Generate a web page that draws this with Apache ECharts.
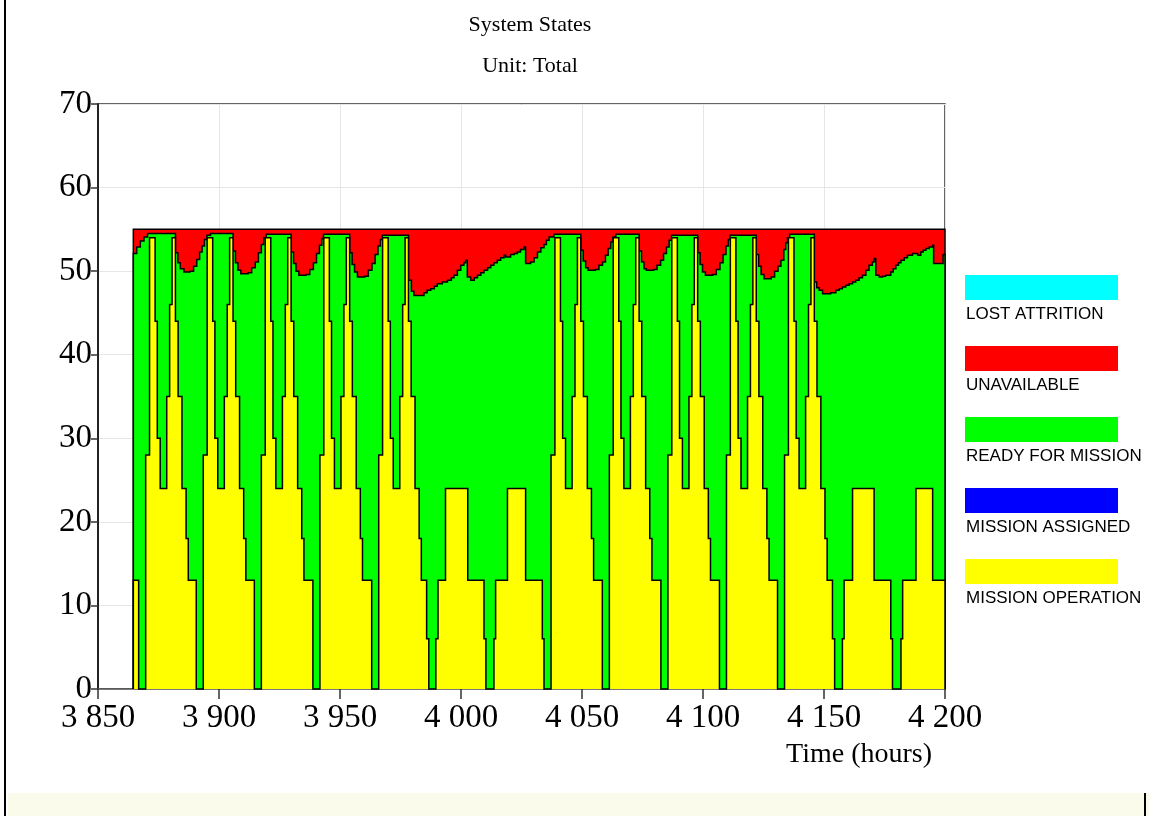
<!DOCTYPE html>
<html>
<head>
<meta charset="utf-8">
<script src="https://cdn.jsdelivr.net/npm/echarts@6/dist/echarts.min.js"></script>
<style>
  html, body { margin: 0; padding: 0; background: #fff; }
  #chart { width: 1149px; height: 816px; }
</style>
</head>
<body>
<div id="chart"></div>
<script>
// step data: [time (hours), level] — each level holds until the next point
var missionOperation = [
  [3864.6,13],
  [3866.8,0],[3869.7,28],[3871.3,54],[3873.6,44],[3874.5,30],[3875.7,24],[3878.4,35],[3879.6,46],[3880.6,54],[3882.0,44],[3883.1,35],[3884.7,24],[3886.4,18],[3887.3,13],
  [3890.6,0],[3893.5,28],[3895.1,54],[3897.4,44],[3898.3,30],[3899.5,24],[3902.2,35],[3903.4,46],[3904.4,54],[3905.8,44],[3906.9,35],[3908.5,24],[3910.2,18],[3911.1,13],
  [3914.6,0],[3917.5,28],[3919.1,54],[3921.4,44],[3922.3,30],[3923.5,24],[3926.2,35],[3927.4,46],[3928.4,54],[3929.8,44],[3930.9,35],[3932.5,24],[3934.2,18],[3935.1,13],
  [3938.8,0],[3941.7,28],[3943.3,54],[3945.6,44],[3946.5,30],[3947.7,24],[3950.4,35],[3951.6,46],[3952.6,54],[3954.0,44],[3955.1,35],[3956.7,24],[3958.4,18],[3959.3,13],
  [3963.1,0],[3966.0,28],[3967.6,54],[3969.9,44],[3970.8,30],[3972.0,24],[3974.7,35],[3975.9,46],[3976.9,54],[3978.3,44],[3979.4,35],[3981.0,24],[3982.7,18],[3983.6,13],[3985.8,6],
  [3986.7,0],[3989.6,6],[3990.5,13],[3993.6,24],[4002.8,13],[4009.5,6],
  [4010.3,0],[4013.6,6],[4014.3,13],[4019.2,24],[4026.7,13],[4033.6,6],
  [4034.3,0],[4037.2,28],[4038.8,54],[4041.1,44],[4042.0,30],[4043.2,24],[4045.9,35],[4047.1,46],[4048.1,54],[4049.5,44],[4050.6,35],[4052.2,24],[4053.9,18],[4054.8,13],
  [4058.4,0],[4061.3,28],[4062.9,54],[4065.2,44],[4066.1,30],[4067.3,24],[4070.0,35],[4071.2,46],[4072.2,54],[4073.6,44],[4074.7,35],[4076.3,24],[4078.0,18],[4078.9,13],
  [4082.6,0],[4085.5,28],[4087.1,54],[4089.4,44],[4090.3,30],[4091.5,24],[4094.2,35],[4095.4,46],[4096.4,54],[4097.8,44],[4098.9,35],[4100.5,24],[4102.2,18],[4103.1,13],
  [4106.8,0],[4109.7,28],[4111.3,54],[4113.6,44],[4114.5,30],[4115.7,24],[4118.4,35],[4119.6,46],[4120.6,54],[4122.0,44],[4123.1,35],[4124.7,24],[4126.4,18],[4127.3,13],
  [4130.8,0],[4133.7,28],[4135.3,54],[4137.6,44],[4138.5,30],[4139.7,24],[4142.4,35],[4143.6,46],[4144.6,54],[4146.0,44],[4147.1,35],[4148.7,24],[4150.4,18],[4151.3,13],[4153.5,6],
  [4154.4,0],[4157.6,6],[4158.3,13],[4161.8,24],[4170.7,13],[4177.6,6],
  [4178.3,0],[4181.8,6],[4182.5,13],[4188.0,24],[4194.9,13],[4200,13]
];

// top of "ready for mission" band (operation + ready); above it is unavailable
var readyTop = [
  [3864.6,52.1],[3866.0,52.9],[3867.5,53.6],[3869.0,54.1],[3870.5,54.5],
  [3882.0,52.2],[3883.0,51.0],[3884.0,50.3],[3885.5,49.9],[3888.0,50.0],[3889.5,50.6],[3890.8,51.4],[3892.0,52.3],[3893.0,53.0],[3894.0,53.8],[3895.0,54.3],[3896.5,54.5],
  [3905.8,52.4],[3906.8,51.0],[3907.8,50.1],[3909.0,49.7],[3912.0,49.8],[3913.5,50.4],[3915.0,51.1],[3916.3,52.2],[3917.5,53.2],[3918.5,54.0],[3919.5,54.4],
  [3929.8,52.3],[3930.8,50.9],[3931.8,50.0],[3933.0,49.5],[3936.0,49.6],[3937.5,50.2],[3939.0,51.0],[3940.3,52.1],[3941.5,53.1],[3942.5,53.9],[3943.2,54.4],
  [3954.0,52.2],[3955.0,50.8],[3956.0,49.9],[3957.2,49.3],[3960.2,49.4],[3961.7,50.1],[3963.2,50.9],[3964.5,52.0],[3965.7,53.0],[3966.7,53.8],[3967.5,54.3],
  [3978.3,48.9],[3979.5,47.6],[3980.5,47.1],[3984.7,47.4],[3986.0,47.7],[3987.5,47.9],[3989.0,48.2],[3990.2,48.5],[3992.3,48.7],[3994.4,48.9],[3996.0,49.2],[3997.1,49.5],
  [3998.5,50.1],[3999.9,50.7],[4001.2,51.0],[4001.9,51.3],[4002.6,49.3],[4004.0,48.9],[4005.5,49.2],[4006.8,49.5],[4008.2,49.8],[4009.5,50.1],[4011.0,50.4],[4012.3,50.7],
  [4013.6,51.0],[4015.0,51.3],[4016.4,51.6],[4017.8,51.9],[4018.5,51.7],[4020.5,52.0],[4022.0,52.1],[4023.3,52.3],[4024.6,52.6],[4026.0,52.9],[4026.7,50.9],[4028.8,51.1],
  [4030.2,51.6],[4031.6,52.3],[4033.0,52.8],[4034.3,53.2],[4035.3,53.7],[4036.4,54.1],[4038.4,54.4],
  [4049.5,52.5],[4050.5,51.2],[4051.5,50.4],[4052.5,50.1],[4055.5,50.2],[4057.0,50.7],[4058.5,51.1],[4059.7,51.9],[4060.8,52.7],[4061.9,53.5],[4062.8,54.1],[4064.0,54.4],
  [4073.6,52.4],[4074.6,51.1],[4075.6,50.3],[4076.6,50.1],[4079.6,50.2],[4081.0,50.7],[4082.5,51.3],[4083.7,52.1],[4084.9,52.9],[4086.0,53.7],[4087.0,54.3],
  [4097.8,52.2],[4098.8,50.8],[4099.8,49.9],[4101.0,49.5],[4104.0,49.6],[4105.5,50.2],[4107.0,51.0],[4108.3,52.0],[4109.5,53.0],[4110.5,53.8],[4111.2,54.3],
  [4122.0,52.0],[4123.0,50.6],[4124.0,49.6],[4125.2,49.1],[4128.2,49.3],[4129.6,50.0],[4131.0,50.6],[4132.2,51.3],[4133.4,52.6],[4134.2,53.4],[4134.9,54.0],[4135.8,54.4],
  [4146.0,48.7],[4147.0,48.0],[4148.0,47.7],[4149.4,47.3],[4152.8,47.4],[4154.9,47.7],[4156.3,47.9],[4157.6,48.1],[4159.0,48.3],[4160.4,48.5],[4161.8,48.7],[4163.1,48.9],
  [4164.5,49.2],[4165.9,49.5],[4167.3,50.1],[4168.6,50.7],[4170.0,51.1],[4170.7,51.5],[4171.4,49.5],[4172.8,49.3],[4174.2,49.4],[4175.5,49.5],[4177.6,49.9],[4178.6,50.3],
  [4179.7,50.7],[4180.8,51.0],[4181.8,51.3],[4183.2,51.6],[4184.5,51.9],[4186.6,52.1],[4188.7,51.9],[4190.0,52.3],[4191.0,52.5],[4192.1,52.7],[4193.5,52.9],[4194.9,53.1],
  [4195.3,50.9],[4199.2,52.0],[4200,52.0]
];

// whole fleet (top of unavailable band)
var totalTop = [[3864.6,55],[4200,55]];

var legendNames = ['LOST ATTRITION','UNAVAILABLE','READY FOR MISSION','MISSION ASSIGNED','MISSION OPERATION'];
var legendColors = ['#00ffff','#ff0000','#00ff00','#0000ff','#ffff00'];

var serif = "'Liberation Serif', 'Times New Roman', serif";

function thousands(v) {
    return String(v).replace(/\B(?=(\d{3})+(?!\d))/g, ' ');
}

// expand [t, v] change points into explicit step vertices
function toSteps(arr) {
    var out = [arr[0]];
    for (var i = 1; i < arr.length; i++) {
        out.push([arr[i][0], arr[i - 1][1]]);
        out.push(arr[i]);
    }
    return out;
}

// one custom series per band: filled step polygon down to 0, black outline on top
function bandSeries(name, arr, color, z) {
    var steps = toSteps(arr);
    return {
        name: name,
        type: 'custom',
        z: z,
        data: [[arr[0][0], 0]],
        renderItem: function (params, api) {
            var line = steps.map(function (p) { return api.coord(p); });
            var first = api.coord([steps[0][0], 0]);
            var last = api.coord([steps[steps.length - 1][0], 0]);
            var poly = [first].concat(line).concat([last]);
            return {
                type: 'group',
                children: [
                    { type: 'polygon', shape: { points: poly }, style: { fill: color, stroke: null } },
                    { type: 'polyline', shape: { points: poly }, style: { fill: null, stroke: '#000', lineWidth: 1.5 } }
                ]
            };
        }
    };
}

var legendGraphics = [];
legendNames.forEach(function (name, i) {
    var top = 275 + i * 71;
    legendGraphics.push({
        type: 'rect',
        shape: { x: 965, y: top, width: 153, height: 25 },
        style: { fill: legendColors[i] }
    });
    legendGraphics.push({
        type: 'text',
        x: 966, y: top + 39,
        style: {
            text: name, fill: '#000',
            font: "17px 'Liberation Sans', Arial, sans-serif",
            textVerticalAlign: 'middle'
        }
    });
});

var chart = echarts.init(document.getElementById('chart'));
var option = {
    animation: false,
    backgroundColor: '#fff',
    title: {
        text: 'System States',
        subtext: 'Unit: Total',
        left: 525,
        top: 9,
        textAlign: 'center',
        itemGap: 19,
        textStyle: { fontFamily: serif, fontSize: 22, fontWeight: 'normal', color: '#000' },
        subtextStyle: { fontFamily: serif, fontSize: 22, color: '#000' }
    },
    grid: {
        left: 98, right: 204, top: 104, bottom: 127,
        show: true, borderColor: '#333', borderWidth: 1.5
    },
    xAxis: {
        type: 'value',
        min: 3850, max: 4200, interval: 50,
        axisLine: { lineStyle: { color: '#555', width: 1.5 } },
        axisTick: { length: 10, lineStyle: { color: '#333', width: 1.5 } },
        axisLabel: { formatter: thousands, fontFamily: serif, fontSize: 33, color: '#000', margin: 13 },
        splitLine: { show: true, lineStyle: { color: '#e6e6e6', width: 1 } }
    },
    yAxis: {
        type: 'value',
        min: 0, max: 70, interval: 10,
        axisLine: { show: true, lineStyle: { color: '#222', width: 2 } },
        axisTick: { show: true, length: 7, lineStyle: { color: '#333', width: 1.5 } },
        axisLabel: { fontFamily: serif, fontSize: 33, color: '#000', margin: 6 },
        splitLine: { show: true, lineStyle: { color: '#e6e6e6', width: 1 } }
    },
    series: [
        bandSeries('UNAVAILABLE', totalTop, '#ff0000', 2),
        bandSeries('READY FOR MISSION', readyTop, '#00ff00', 3),
        bandSeries('MISSION OPERATION', missionOperation, '#ffff00', 4)
    ],
    graphic: [
        {
            type: 'text', x: 932, y: 755,
            style: { text: 'Time (hours)', fill: '#000', font: "28px " + serif, textAlign: 'right', textVerticalAlign: 'middle' }
        },
        { type: 'rect', shape: { x: 8, y: 793, width: 1141, height: 23 }, style: { fill: '#fbfbec' } },
        { type: 'rect', shape: { x: 4, y: 0, width: 2, height: 816 }, style: { fill: '#000' } },
        { type: 'rect', shape: { x: 1144, y: 793, width: 2, height: 23 }, style: { fill: '#000' } }
    ].concat(legendGraphics)
};
chart.setOption(option);
window.addEventListener('resize', chart.resize);
</script>
</body>
</html>
